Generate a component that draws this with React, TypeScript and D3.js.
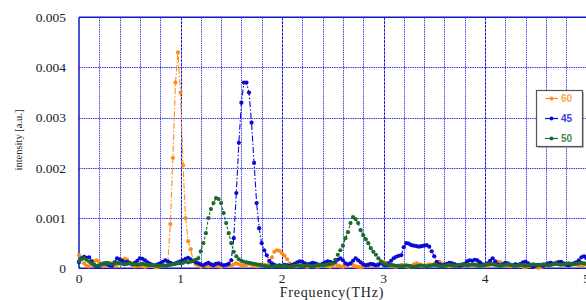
import * as d3 from "d3";

// sample spacing of the spectra, THz
const freqStep = 0.025;

// intensity in units of 1e-4 a.u., one value per sample (0 .. 5 THz)
const series60 = [
  2.6, 2.0, 1.0, 0.5, 0.4, 0.9, 1.4, 1.6, 1.2, 0.8,
  0.5, 0.6, 0.9, 0.8, 0.5, 0.7, 1.2, 1.7, 1.9, 1.7,
  1.2, 0.7, 0.4, 0.5, 0.6, 0.4, 0.3, 0.5, 0.7, 0.5,
  0.3, 0.2, 0.4, 0.6, 0.5, 1.2, 8.8, 22, 37, 43,
  35, 20.5, 10, 5.4, 3.8, 1.5, 0.8, 0.5, 0.3, 0.6,
  0.5, 0.4, 0.6, 0.8, 0.6, 0.4, 0.3, 0.5, 0.7, 0.6,
  0.5, 0.8, 1.0, 0.8, 0.6, 0.5, 0.7, 0.9, 0.7, 0.5,
  0.4, 0.6, 0.8, 0.7, 0.6, 1.2, 2.2, 3.3, 3.6, 3.5,
  3.0, 2.5, 1.8, 1.0, 0.6, 0.4, 0.5, 0.7, 0.6, 0.4,
  0.3, 0.5, 0.6, 0.4, 0.3, 0.5, 0.7, 0.6, 0.4, 0.3,
  0.5, 0.8, 0.6, 0.4, 0.3, 0.5, 0.7, 0.9, 0.6, 0.4,
  0.3, 0.2, 0.4, 0.6, 0.8, 0.7, 0.5, 0.6, 0.9, 1.2,
  1.3, 1.1, 0.8, 0.6, 0.4, 0.3, 0.5, 0.7, 0.6, 0.4,
  0.3, 0.5, 0.8, 1.0, 0.8, 0.5, 0.4, 0.6, 0.8, 0.6,
  0.9, 1.2, 1.3, 1.0, 0.7, 0.5, 0.4, 0.6, 0.8, 0.7,
  0.5, 0.4, 0.6, 0.8, 0.7, 0.5, 0.6, 0.9, 1.0, 0.8,
  0.6, 0.5, 0.7, 0.9, 1.1, 1.3, 1.2, 0.9, 0.7, 0.5,
  0.4, 0.6, 0.8, 0.7, 0.5, 0.3, 0.2, 0.4, 0.6, 0.5,
  0.3, 0.1, 0.2, 0.4, 0.6, 0.8, 0.7, 0.9, 1.2, 1.3,
  1.1, 0.8, 0.6, 0.5, 0.7, 0.9, 0.8, 0.6, 0.5, 0.7,
  0.8,
];

const series45 = [
  1.2, 2.0, 2.3, 2.1, 2.2, 1.4, 0.6, 0.4, 0.5, 0.8,
  1.0, 0.9, 0.6, 0.5, 1.2, 2.0, 1.8, 1.5, 1.2, 1.3,
  1.0, 0.8, 1.1, 1.5, 2.0, 1.9, 1.6, 1.2, 0.9, 0.7,
  0.6, 0.8, 1.0, 1.3, 1.6, 1.4, 1.1, 0.9, 1.0, 1.2,
  1.4, 1.6, 1.9, 2.1, 1.8, 1.4, 1.2, 1.0, 0.8, 0.6,
  0.9, 1.1, 0.8, 0.6, 0.9, 1.0, 0.8, 0.6, 0.7, 0.9,
  1.6, 6, 15, 25, 33, 37, 37, 35, 29, 21,
  13, 8, 5, 3.6, 2.6, 1.5, 1.0, 0.7, 0.5, 0.6,
  0.5, 0.7, 0.6, 0.5, 0.7, 0.9, 1.2, 1.4, 1.3, 1.0,
  0.8, 0.9, 1.1, 1.0, 0.8, 0.7, 0.9, 1.2, 1.4, 1.3,
  1.1, 1.3, 1.7, 2.0, 1.6, 1.0, 0.8, 1.0, 1.5, 2.0,
  1.6, 1.2, 0.8, 0.6, 0.7, 0.9, 0.8, 0.6, 0.7, 1.0,
  0.7, 0.6, 1.0, 1.5, 2.0, 2.3, 2.5, 2.6, 4.2, 5.0,
  4.9, 4.6, 4.5, 4.4, 4.3, 4.4, 4.5, 4.6, 4.3, 3.4,
  2.4, 1.3, 0.8, 0.6, 0.7, 0.9, 1.1, 1.0, 0.8, 0.6,
  0.5, 0.6, 0.9, 1.4, 1.6, 1.5, 1.7, 1.6, 1.2, 0.8,
  0.7, 1.0, 1.5, 2.0, 1.4, 0.8, 0.6, 0.8, 1.1, 1.0,
  0.7, 0.6, 0.8, 0.7, 0.9, 1.2, 1.3, 1.0, 0.6, 0.4,
  0.5, 0.7, 0.6, 0.5, 0.8, 1.0, 1.1, 0.9, 1.0, 1.2,
  1.3, 1.0, 0.7, 0.6, 0.8, 1.0, 1.2, 1.6, 2.2, 2.4,
  2.0,
];

const series50 = [
  1.4, 1.8, 2.0, 1.7, 1.3, 1.0, 0.7, 0.5, 0.6, 0.8,
  1.0, 1.1, 1.0, 0.9, 1.0, 1.1, 1.0, 0.9, 0.8, 0.9,
  1.0, 0.9, 0.8, 0.7, 0.8, 0.9, 0.8, 0.7, 0.6, 0.7,
  0.6, 0.5, 0.5, 0.6, 0.5, 0.6, 0.7, 0.8, 0.9, 1.0,
  1.0, 1.1, 1.3, 1.2, 1.3, 1.5, 1.7, 2.0, 3.4, 5.0,
  7.0, 10.0, 11.8, 13.0, 14.0, 13.8, 13.0, 11.0, 9.0, 7.0,
  5.0, 3.3, 2.4, 1.8, 1.5, 1.3, 1.2, 1.1, 1.0, 0.9,
  0.8, 0.7, 0.6, 0.5, 0.4, 0.4, 0.3, 0.4, 0.5, 0.4,
  0.4, 0.5, 0.4, 0.3, 0.4, 0.5, 0.6, 0.5, 0.4, 0.5,
  0.6, 0.5, 0.4, 0.5, 0.6, 0.7, 0.6, 0.7, 0.8, 0.9,
  1.0, 1.7, 2.7, 3.6, 4.5, 6.0, 7.2, 9.0, 10.2, 9.8,
  9.0, 7.6, 6.6, 5.8, 5.0, 4.0, 3.3, 2.7, 2.0, 1.4,
  1.0, 0.8, 0.6, 0.7, 0.6, 0.5, 0.5, 0.4, 0.5, 0.6,
  0.5, 0.4, 0.3, 0.4, 0.5, 0.6, 0.5, 0.4, 0.5, 0.6,
  0.7, 0.6, 0.5, 0.4, 0.5, 0.6, 0.7, 0.6, 0.5, 0.6,
  0.7, 0.8, 0.7, 0.6, 0.7, 0.8, 0.7, 0.6, 0.5, 0.6,
  0.7, 0.8, 0.9, 0.8, 0.7, 0.6, 0.5, 0.6, 0.7, 0.8,
  0.7, 0.6, 0.5, 0.6, 0.7, 0.6, 0.5, 0.6, 0.7, 0.8,
  0.7, 0.6, 0.7, 0.8, 0.7, 0.6, 0.7, 0.8, 0.9, 0.8,
  0.7, 0.8, 0.9, 1.0, 0.9, 0.8, 0.9, 1.0, 1.1, 1.0,
  0.9,
];

const seriesNames = ["60", "45", "50"];
const seriesColors = ["#ff8c1a", "#0a0ad2", "#1c6b2c"];
const legendTextColors = ["#ffa64d", "#3c3cdc", "#3f8a50"];
const seriesDash = ["6,2,1.5,2", "6,2,1.5,2", "3,2"];

const xTicks = [0, 1, 2, 3, 4, 5];
const yTicks = [0, 0.001, 0.002, 0.003, 0.004, 0.005];
const yTickLabels = ["0", "0.001", "0.002", "0.003", "0.004", "0.005"];

export default function App() {
  const width = 586;
  const height = 300;
  const left = 79;
  const right = 586.5;
  const top = 17.3;
  const bottom = 268.3;

  const x = d3.scaleLinear().domain([0, 5]).range([left, right]);
  const y = d3.scaleLinear().domain([0, 0.005]).range([bottom, top]);

  const all = [series60, series45, series50].map((s) =>
    s.map((v, i) => ({ f: i * freqStep, v: v * 1e-4 }))
  );

  const line = d3
    .line<{ f: number; v: number }>()
    .x((d) => x(d.f))
    .y((d) => y(d.v));

  const gridX = d3.range(1, 25).map((i) => i * 0.2);

  return (
    <svg
      width={width}
      height={height}
      style={{ position: "absolute", left: 0, top: 0, background: "#fff" }}
    >
      {/* grid */}
      {gridX.map((f) => {
        const major = Math.abs(f - Math.round(f)) < 1e-6;
        return (
          <line
            key={"gx" + f}
            x1={Math.round(x(f)) + 0.5}
            x2={Math.round(x(f)) + 0.5}
            y1={top}
            y2={bottom}
            stroke={major ? "#1a1ae0" : "#2a2aee"}
            strokeWidth={1}
            strokeDasharray={major ? "3,0.8" : "1.5,0.8"}
            opacity={major ? 1 : 0.85}
          />
        );
      })}
      {yTicks.slice(1).map((t) => (
        <line
          key={"gy" + t}
          x1={left}
          x2={width}
          y1={Math.round(y(t)) + 0.5}
          y2={Math.round(y(t)) + 0.5}
          stroke="#2020e8"
          strokeWidth={1}
          strokeDasharray="1.5,0.8"
          opacity={0.9}
        />
      ))}
      <line x1={left} x2={width} y1={top} y2={top} stroke="#1414cc" strokeWidth={1.5} />
      <line x1={left} x2={left} y1={top} y2={bottom} stroke="#1414cc" strokeWidth={1.5} />
      <line x1={left} x2={width} y1={bottom} y2={bottom} stroke="#1414cc" strokeWidth={1.5} />

      {/* series */}
      {all.map((data, si) => (
        <g key={seriesNames[si]}>
          <path
            d={line(data) || ""}
            fill="none"
            stroke={seriesColors[si]}
            strokeWidth={1.1}
            strokeDasharray={seriesDash[si]}
          />
          {data.map((d, i) => (
            <circle key={i} cx={x(d.f)} cy={y(d.v)} r={2.1} fill={seriesColors[si]} />
          ))}
        </g>
      ))}

      {/* axes labels */}
      {yTicks.map((t, i) => (
        <text
          key={"yl" + t}
          x={66}
          y={y(t)}
          dy="0.35em"
          textAnchor="end"
          fontFamily="'Liberation Serif', 'Times New Roman', serif"
          fontSize={13.5}
          fill="#222"
        >
          {yTickLabels[i]}
        </text>
      ))}
      {xTicks.map((t) => (
        <text
          key={"xl" + t}
          x={x(t)}
          y={283}
          textAnchor="middle"
          fontFamily="'Liberation Serif', 'Times New Roman', serif"
          fontSize={13.5}
          fill="#222"
        >
          {t}
        </text>
      ))}
      <text
        x={332}
        y={297}
        textAnchor="middle"
        fontFamily="'Liberation Serif', 'Times New Roman', serif"
        fontSize={14}
        letterSpacing={0.8}
        fill="#222"
      >
        Frequency(THz)
      </text>
      <text
        transform="translate(22,140) rotate(-90)"
        textAnchor="middle"
        fontFamily="'Liberation Serif', 'Times New Roman', serif"
        fontSize={10.5}
        fill="#222"
      >
        intensity [a.u.]
      </text>

      {/* legend */}
      <rect x={538} y={92} width={46} height={56} fill="#777" opacity={0.5} />
      <rect x={536.5} y={90.5} width={46} height={56} fill="#fff" stroke="#555" strokeWidth={1.2} />
      {seriesNames.map((name, i) => {
        const cy = 98.5 + i * 20;
        return (
          <g key={"lg" + name}>
            <line x1={545} x2={558} y1={cy} y2={cy} stroke={seriesColors[i]} strokeWidth={1.2} />
            <circle cx={551.5} cy={cy} r={2} fill={seriesColors[i]} />
            <text
              x={561}
              y={cy}
              dy="0.36em"
              fontFamily="'Liberation Sans', Arial, sans-serif"
              fontWeight="bold"
              fontSize={10}
              fill={legendTextColors[i]}
            >
              {name}
            </text>
          </g>
        );
      })}
    </svg>
  );
}
